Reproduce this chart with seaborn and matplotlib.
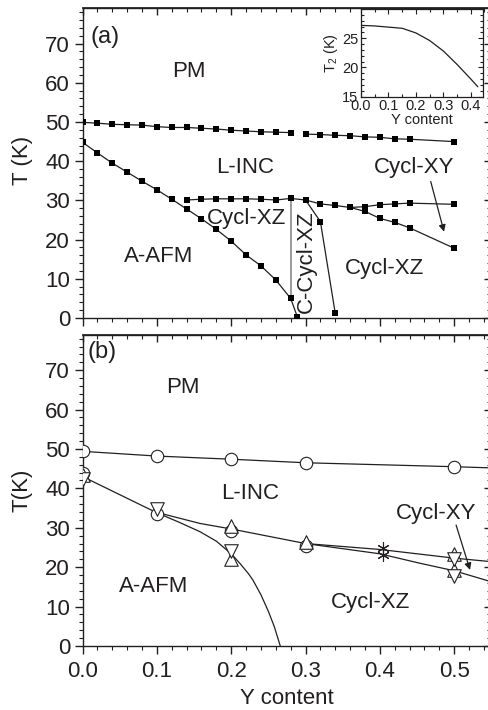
import matplotlib
matplotlib.use('Agg')
import matplotlib.pyplot as plt
import seaborn as sns
import pandas as pd
from matplotlib.ticker import MultipleLocator

# ---------------- data: panel (a) ----------------
a_tn1_x = [0.00, 0.02, 0.04, 0.06, 0.08, 0.10, 0.12, 0.14, 0.16, 0.18, 0.20, 0.22, 0.24, 0.26, 0.28]
a_tn1_t = [49.9, 49.7, 49.4, 49.3, 49.2, 48.8, 48.6, 48.6, 48.4, 48.2, 47.9, 47.7, 47.5, 47.4, 47.3]
a_tn2_x = [0.30, 0.32, 0.34, 0.36, 0.38, 0.40, 0.42, 0.44, 0.50]
a_tn2_t = [46.9, 46.8, 46.6, 46.5, 46.2, 46.1, 45.7, 45.6, 45.0]

a_afm_x = [0.00, 0.02, 0.04, 0.06, 0.08, 0.10, 0.12, 0.14, 0.16, 0.18, 0.20, 0.22, 0.24, 0.26, 0.28, 0.289]
a_afm_t = [44.8, 42.1, 39.5, 37.2, 34.9, 32.7, 30.3, 27.8, 25.3, 22.6, 19.6, 16.1, 13.3, 9.7, 5.0, 0.3]

a_xz_x = [0.14, 0.16, 0.18, 0.20, 0.22, 0.24, 0.26, 0.28, 0.30, 0.32, 0.34, 0.36, 0.38, 0.40, 0.42, 0.44, 0.50]
a_xz_t = [30.1, 30.3, 30.4, 30.4, 30.4, 30.3, 30.1, 30.5, 30.1, 29.1, 28.7, 28.2, 27.2, 25.4, 24.4, 23.0, 17.8]
a_xy_x = [0.36, 0.38, 0.40, 0.42, 0.44, 0.50]
a_xy_t = [28.2, 28.4, 28.9, 29.1, 29.3, 29.0]
a_cc_x = [0.30, 0.32, 0.34]
a_cc_t = [30.1, 24.6, 1.2]
a_vert_x = [0.28, 0.28]
a_vert_t = [5.0, 30.5]

# inset: T2 vs Y content
in_x = [0.00, 0.05, 0.10, 0.15, 0.20, 0.25, 0.30, 0.35, 0.40, 0.425]
in_t = [27.2, 27.1, 26.9, 26.7, 25.9, 24.6, 22.8, 20.5, 18.0, 16.7]

# ---------------- data: panel (b) ----------------
b_circ_x = [0.0, 0.1, 0.2, 0.3, 0.5, 0.0, 0.1, 0.2, 0.3]
b_circ_t = [49.4, 48.2, 47.5, 46.5, 45.5, 43.8, 33.4, 29.2, 25.3]
b_up_x = [0.0, 0.2, 0.2, 0.3, 0.5, 0.5]
b_up_t = [43.4, 30.4, 22.2, 26.4, 23.4, 19.3]
b_down_x = [0.0, 0.1, 0.2, 0.5, 0.5]
b_down_t = [42.4, 34.7, 24.0, 22.0, 17.7]
b_star_x = [0.404, 0.404]
b_star_t = [24.8, 23.1]

b_tn_x = [0.0, 0.1, 0.2, 0.3, 0.5, 0.55]
b_tn_t = [49.4, 48.2, 47.4, 46.5, 45.5, 45.2]
b_afm_x = [0.0, 0.05, 0.10, 0.13, 0.158, 0.18, 0.20, 0.212, 0.223, 0.229, 0.24, 0.25, 0.258, 0.266]
b_afm_t = [43.0, 38.4, 33.8, 31.4, 29.0, 26.6, 23.4, 20.9, 18.4, 16.8, 13.0, 8.8, 4.9, 0.0]
b_xy_x = [0.10, 0.158, 0.20, 0.30, 0.40, 0.50, 0.55]
b_xy_t = [33.9, 31.1, 29.7, 26.0, 24.5, 22.3, 21.4]
b_xz_x = [0.30, 0.40, 0.454, 0.50, 0.55]
b_xz_t = [26.0, 23.4, 21.0, 19.1, 16.3]

# arrows (start, end) in data units
a_arrow = [(0.4685, 34.8), (0.4864, 22.0)]
b_arrow = [(0.5026, 30.7), (0.5214, 19.3)]

x_ticks = [0.0, 0.1, 0.2, 0.3, 0.4, 0.5]
x_ticklabels = ['0.0', '0.1', '0.2', '0.3', '0.4', '0.5']
y_ticks = [0, 10, 20, 30, 40, 50, 60, 70]

# ---------------- style ----------------
sns.set_theme(style='ticks')
plt.rcParams['font.family'] = ['Liberation Sans', 'DejaVu Sans']
plt.rcParams['mathtext.fontset'] = 'custom'
plt.rcParams['mathtext.rm'] = 'Liberation Sans'
plt.rcParams['mathtext.it'] = 'Liberation Sans'
INK = '#231f20'
plt.rcParams['text.color'] = INK
plt.rcParams['axes.labelcolor'] = INK
plt.rcParams['xtick.color'] = INK
plt.rcParams['ytick.color'] = INK
plt.rcParams['axes.edgecolor'] = INK

FS = 16
LW = 0.9

fig = plt.figure(figsize=(4.89, 7.10), dpi=100)
W, H = 489.0, 710.0
x0_px, x1_px = 82.6, 491.3
axA = fig.add_axes([x0_px / W, 1 - 318 / H, (x1_px - x0_px) / W, (318 - 8.3) / H])
axB = fig.add_axes([x0_px / W, 1 - 646 / H, (x1_px - x0_px) / W, (646 - 334.7) / H])


def style_main(ax, show_xlabels):
    ax.set_xlim(0, 0.55)
    ax.set_ylim(0, 79)
    ax.set_xticks(x_ticks)
    ax.set_yticks(y_ticks)
    ax.xaxis.set_minor_locator(MultipleLocator(0.02))
    ax.yaxis.set_minor_locator(MultipleLocator(2))
    for s in ax.spines.values():
        s.set_linewidth(1.0)
    ax.tick_params(which='major', direction='out', length=6, width=1.0, labelsize=FS, pad=3)
    ax.tick_params(which='minor', direction='out', length=3, width=0.8)
    ax.tick_params(axis='x', pad=5)
    if show_xlabels:
        ax.set_xticklabels(x_ticklabels)
    else:
        ax.tick_params(axis='x', labelbottom=False)
    top = ax.secondary_xaxis('top')
    top.set_xticks(x_ticks)
    top.xaxis.set_minor_locator(MultipleLocator(0.02))
    top.tick_params(which='major', direction='in', length=5, width=1.0, labeltop=False)
    top.tick_params(which='minor', direction='in', length=3, width=0.8)
    right = ax.secondary_yaxis('right')
    right.set_yticks(y_ticks)
    right.yaxis.set_minor_locator(MultipleLocator(2))
    right.tick_params(which='major', direction='in', length=5, width=1.0, labelright=False)
    right.tick_params(which='minor', direction='in', length=3, width=0.8)


def line(ax, x, y, color=INK, lw=LW):
    sns.lineplot(x=x, y=y, ax=ax, color=color, linewidth=lw, sort=False, estimator=None)


def squares(ax, x, y):
    sns.scatterplot(x=x, y=y, ax=ax, marker='s', s=16, color='black', linewidth=0, zorder=5)


# ---------------- panel (a) ----------------
line(axA, a_tn1_x, a_tn1_t)
line(axA, a_tn2_x, a_tn2_t)
line(axA, a_afm_x, a_afm_t)
line(axA, a_xz_x, a_xz_t)
line(axA, a_xy_x, a_xy_t)
line(axA, a_cc_x, a_cc_t)
line(axA, a_vert_x, a_vert_t, color='#8a8a8a', lw=1.2)
for xs, ts in [(a_tn1_x, a_tn1_t), (a_tn2_x, a_tn2_t), (a_afm_x, a_afm_t),
               (a_xz_x, a_xz_t), (a_xy_x, a_xy_t), (a_cc_x, a_cc_t)]:
    squares(axA, xs, ts)
axA.annotate('', xy=a_arrow[1], xytext=a_arrow[0],
             arrowprops=dict(arrowstyle='-|>', color=INK, lw=0.9, mutation_scale=10, shrinkA=0, shrinkB=0))
style_main(axA, False)
axA.set_xlabel('')
axA.set_ylabel('T (K)', fontsize=FS)
axA.yaxis.set_label_coords(-0.148, 0.51)
axA.yaxis.label.set_verticalalignment('center')

axA.text(0.010, 71.6, '(a)', fontsize=17, ha='left', va='center')
axA.text(0.143, 62.8, 'PM', fontsize=FS, ha='center', va='center')
axA.text(0.219, 38.5, 'L-INC', fontsize=FS, ha='center', va='center')
axA.text(0.446, 38.3, 'Cycl-XY', fontsize=FS, ha='center', va='center')
axA.text(0.221, 25.3, 'Cycl-XZ', fontsize=FS, ha='center', va='center')
axA.text(0.102, 15.6, 'A-AFM', fontsize=FS, ha='center', va='center')
axA.text(0.407, 12.7, 'Cycl-XZ', fontsize=FS, ha='center', va='center')
axA.text(0.3016, 14.4, 'C-Cycl-XZ', fontsize=FS, ha='center', va='center', rotation=90)

# ---------------- inset ----------------
axI = fig.add_axes([361 / W, 1 - 96.7 / H, 122.3 / W, 87.7 / H])
line(axI, in_x, in_t, lw=0.9)
axI.set_xlim(0, 0.445)
axI.set_ylim(15, 30)
axI.set_xticks([0.0, 0.1, 0.2, 0.3, 0.4])
axI.set_xticklabels(['0.0', '0.1', '0.2', '0.3', '0.4'])
axI.set_yticks([15, 20, 25])
axI.xaxis.set_minor_locator(MultipleLocator(0.05))
axI.yaxis.set_minor_locator(MultipleLocator(1))
axI.tick_params(which='both', direction='in', top=True, right=True, labelsize=10.5, pad=2, width=0.8)
axI.tick_params(which='major', length=3.5)
axI.tick_params(which='minor', length=2)
for s in axI.spines.values():
    s.set_linewidth(0.9)
axI.set_xlabel('Y content', fontsize=10.5, labelpad=0)
axI.set_ylabel('T$_\\mathregular{2}$ (K)', fontsize=10.5, labelpad=1)

# ---------------- panel (b) ----------------
line(axB, b_tn_x, b_tn_t)
line(axB, b_afm_x, b_afm_t)
line(axB, b_xy_x, b_xy_t)
line(axB, b_xz_x, b_xz_t)
open_kw = dict(facecolor='white', edgecolor=INK, linewidth=0.8, zorder=5)
sns.scatterplot(x=b_circ_x, y=b_circ_t, ax=axB, marker='o', s=80, **open_kw)
sns.scatterplot(x=b_up_x, y=b_up_t, ax=axB, marker='^', s=95, **open_kw)
sns.scatterplot(x=b_down_x, y=b_down_t, ax=axB, marker='v', s=95, **open_kw)
axB.scatter(b_star_x, b_star_t, marker=(6, 2, 0), s=70, color=INK, linewidths=0.8, zorder=6)
axB.annotate('', xy=b_arrow[1], xytext=b_arrow[0],
             arrowprops=dict(arrowstyle='-|>', color=INK, lw=0.9, mutation_scale=10, shrinkA=0, shrinkB=0))
style_main(axB, True)
axB.set_ylabel('T(K)', fontsize=FS)
axB.yaxis.set_label_coords(-0.148, 0.50)
axB.yaxis.label.set_verticalalignment('center')
axB.set_xlabel('Y content', fontsize=FS, labelpad=4)

axB.text(0.007, 74.6, '(b)', fontsize=17, ha='left', va='center')
axB.text(0.1356, 65.6, 'PM', fontsize=FS, ha='center', va='center')
axB.text(0.225, 38.6, 'L-INC', fontsize=FS, ha='center', va='center')
axB.text(0.4757, 33.7, 'Cycl-XY', fontsize=FS, ha='center', va='center')
axB.text(0.0952, 15.0, 'A-AFM', fontsize=FS, ha='center', va='center')
axB.text(0.388, 11.0, 'Cycl-XZ', fontsize=FS, ha='center', va='center')

fig.savefig('out.png', dpi=100)
